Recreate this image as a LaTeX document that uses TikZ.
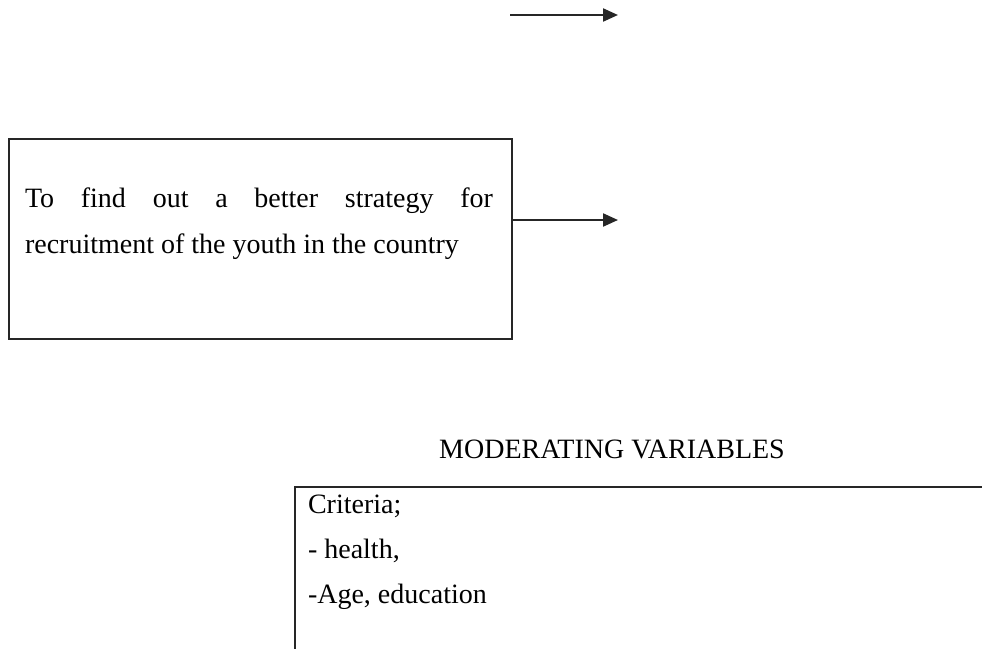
\documentclass[tikz,border=0pt]{standalone}
\usepackage{fontspec}
\setmainfont{Liberation Serif}
\usetikzlibrary{arrows.meta}
\tikzset{
  boxline/.style={draw=black!85, line width=1.8pt},
  txt/.style={inner sep=0pt, outer sep=0pt, font=\fontsize{28}{46}\selectfont},
  arr/.style={draw=black!85, line width=2.2pt, -{Triangle[length=15pt,width=13pt]}}
}
\begin{document}
\begin{tikzpicture}[x=1pt,y=-1pt]
\useasboundingbox (0,0) rectangle (982,648);
\clip (0,0) rectangle (982,648);
% top arrow
\coordinate (ta) at (510,15);
\coordinate (tb) at (618,15);
\draw[arr] (ta) -- (tb);
% objective box
\node[boxline, anchor=north west, minimum width=503pt, minimum height=200pt, inner sep=0pt] (obj) at (8,138) {};
\node[txt, anchor=base west, align=left] (objtext) at (25,253)
  {\makebox[468pt][s]{To find out a better strategy for}\\recruitment of the youth in the country};
\coordinate (oa) at (obj.east |- 0,220);
\coordinate (ob) at (618,220);
\draw[arr] (oa) -- (ob);
% moderating variables
\node[txt, anchor=base] (modtitle) at (612,458) {MODERATING VARIABLES};
\node[boxline, anchor=north west, minimum width=720pt, minimum height=220pt, inner sep=0pt] (mod) at (294,486) {};
\node[txt, anchor=base west] (c1) at (308,513) {Criteria;};
\node[txt, anchor=base west] (c2) at (308,558) {- health,};
\node[txt, anchor=base west] (c3) at (308,603) {-Age, education};
\end{tikzpicture}
\end{document}
